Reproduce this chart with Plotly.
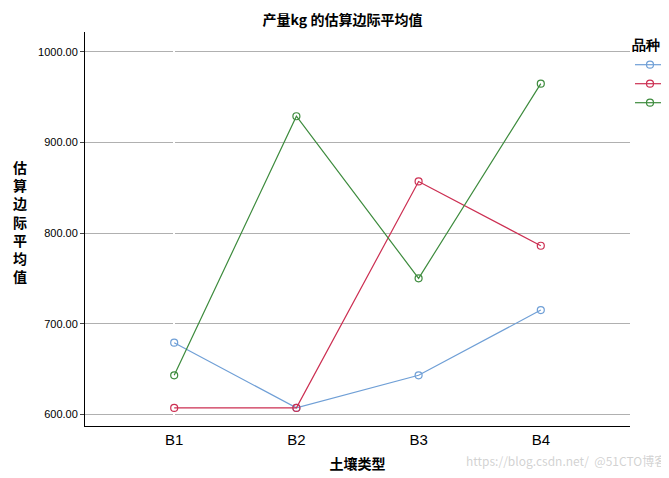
import plotly.graph_objects as go

categories = ["B1", "B2", "B3", "B4"]
series_names = ["A1", "A2", "A3"]
a1 = [679, 607, 643, 715]
a2 = [607, 607, 857, 786]
a3 = [643, 929, 750, 965]
colors = ["#6f9fd6", "#cc2f52", "#3d8b3d"]
y_ticks = [600, 700, 800, 900, 1000]

fig = go.Figure()
for name, vals, c in zip(series_names, [a1, a2, a3], colors):
    fig.add_trace(go.Scatter(x=[0, 1, 2, 3], y=vals, name=name, mode="lines+markers",
                             line=dict(color=c, width=1.2),
                             marker=dict(symbol="circle-open", size=7, color=c, line=dict(width=1.2))))

fig.update_layout(
    width=669, height=478, paper_bgcolor="white", plot_bgcolor="white",
    margin=dict(l=77, r=47, t=24, b=60, autoexpand=False),
    font=dict(family="Noto Sans CJK SC, Arial", color="black"),
    title=dict(text="<b>产量kg 的估算边际平均值</b>", x=0.5, xanchor="center", y=0.985, font=dict(size=14)),
    xaxis=dict(tickvals=[0, 1, 2, 3], ticktext=categories, range=[-0.73, 3.73],
               showgrid=False, showline=True, linecolor="black", ticks="", tickfont=dict(size=15, family="Arial"),
               title=dict(text="<b>土壤类型</b>", font=dict(size=14), standoff=12)),
    yaxis=dict(tickvals=y_ticks, ticktext=[f"{v:.2f}" for v in y_ticks], range=[587, 1022],
               showgrid=True, gridcolor="#b0b0b0", showline=True, linecolor="black",
               ticks="outside", ticklen=4, tickfont=dict(size=11, family="Arial"), zeroline=False),
    legend=dict(x=1.0, y=1.0, xanchor="left", yanchor="top", xref="paper",
                title=dict(text="<b>品种</b>", font=dict(size=14)), font=dict(size=12, family="Arial"),
                bgcolor="rgba(0,0,0,0)", tracegroupgap=0, itemwidth=30),
    annotations=[dict(text="<b>估<br>算<br>边<br>际<br>平<br>均<br>值</b>", xref="paper", yref="paper",
                      x=-0.12, y=0.52, xanchor="center", yanchor="middle", showarrow=False,
                      font=dict(size=14), align="center"),
                 dict(text="https://blog.csdn.net/  @51CTO博客", xref="paper", yref="paper",
                      x=1.07, y=-0.115, xanchor="right", showarrow=False,
                      font=dict(size=12, color="rgba(180,180,180,0.6)"))],
)
fig.write_html("out.html")
